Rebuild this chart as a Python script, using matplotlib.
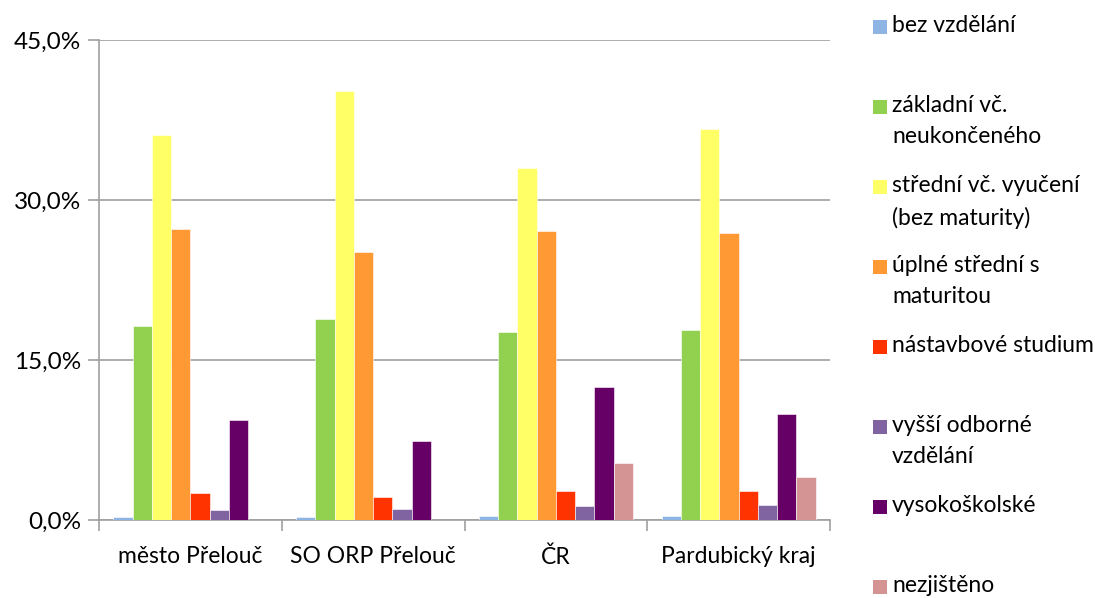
import matplotlib
matplotlib.use("Agg")
import matplotlib.pyplot as plt
import numpy as np
from matplotlib.patches import Rectangle
from matplotlib.ticker import FuncFormatter

categories = ["město Přelouč", "SO ORP Přelouč", "ČR", "Pardubický kraj"]
series_names = ["bez vzdělání", "základní vč.\nneukončeného", "střední vč. vyučení\n(bez maturity)",
                "úplné střední s\nmaturitou", "nástavbové studium", "vyšší odborné\nvzdělání",
                "vysokoškolské", "nezjištěno"]
bez = [0.25, 0.25, 0.4, 0.4]
zakladni = [18.2, 18.8, 17.6, 17.8]
stredni = [36.1, 40.25, 33.0, 36.7]
uplne = [27.3, 25.1, 27.05, 26.95]
nastavbove = [2.5, 2.2, 2.75, 2.75]
vyssi = [0.9, 1.03, 1.28, 1.38]
vysoko = [9.4, 7.4, 12.5, 9.9]
nezjisteno = [0.0, 0.0, 5.3, 4.0]
values = [bez, zakladni, stredni, uplne, nastavbove, vyssi, vysoko, nezjisteno]
colors = ["#8EB4E3", "#92D050", "#FFFF66", "#FF9933", "#FF3300", "#8064A2", "#660066", "#D49494"]

plt.rcParams['font.family'] = ['Lato', 'DejaVu Sans']

fig = plt.figure(figsize=(10.95, 5.98), dpi=100)
ax = fig.add_axes([99/1095, 78/598, (830-99)/1095, 480/598])

n = len(values)
bw = 1/9.5
x = np.arange(len(categories))
for i, (vals, c) in enumerate(zip(values, colors)):
    pos = x - 0.5 + 0.75*bw + (i + 0.5)*bw
    ax.bar(pos, vals, width=bw, color=c, edgecolor="white", linewidth=0.4, zorder=3)

ax.set_xlim(-0.5, len(categories) - 0.5)
ax.set_ylim(0, 45)
ax.set_yticks([0, 15, 30, 45])
ax.yaxis.set_major_formatter(FuncFormatter(lambda v, p: f"{v:.1f}".replace(".", ",") + "%"))
ax.yaxis.grid(True, color="#A0A0A0", linewidth=1.2, zorder=0)
ax.set_xticks(x)
ax.set_xticklabels(categories, fontsize=16.5)
ax.set_xticks(np.arange(-0.5, len(categories)), minor=True)
ax.tick_params(axis="x", which="major", length=0, pad=19)
ax.tick_params(axis="x", which="minor", length=8, color="#A0A0A0", width=1.2)
ax.tick_params(axis="y", length=8, color="#A0A0A0", width=1.2, labelsize=17.5, pad=5)
for s in ["top", "right"]:
    ax.spines[s].set_visible(False)
for s in ["left", "bottom"]:
    ax.spines[s].set_color("#A0A0A0")
    ax.spines[s].set_linewidth(1.2)

# legend
W, H = 1095, 598
for i, (name, c) in enumerate(zip(series_names, colors)):
    ytop = 27 + 80*i
    fig.patches.append(Rectangle((873/W, 1 - (ytop + 7)/H), 14/W, 14/H,
                                 transform=fig.transFigure, facecolor=c, edgecolor="none"))
    fig.text(892/W, 1 - (ytop - 12)/H, name, fontsize=16.5, va="top", ha="left",
             linespacing=1.6)

fig.savefig("out.png", dpi=100)
